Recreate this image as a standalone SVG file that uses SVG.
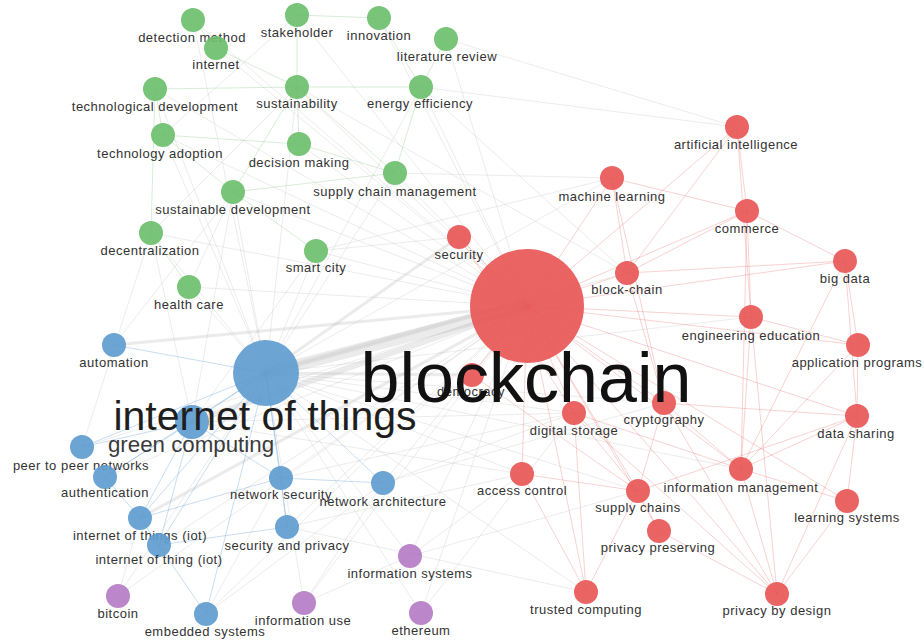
<svg xmlns="http://www.w3.org/2000/svg" width="924" height="642" viewBox="0 0 924 642">
<style>
.e{stroke:#c8c8c8;stroke-opacity:.35;stroke-width:1;fill:none}
.ew{stroke:#bdbdbd;stroke-opacity:.3;fill:none;stroke-linecap:round}
.er{stroke:#e86a6a;stroke-opacity:.3;stroke-width:1;fill:none}
.eb{stroke:#78a9d6;stroke-opacity:.4;stroke-width:1;fill:none}
.eg{stroke:#8ccc8c;stroke-opacity:.35;stroke-width:1;fill:none}
.g{fill:#6dbf6d;fill-opacity:.92}
.r{fill:#e85757;fill-opacity:.92}
.b{fill:#5f9ccf;fill-opacity:.92}
.p{fill:#b57cc6;fill-opacity:.92}
.l{font-family:"Liberation Sans",Arial,sans-serif;font-size:13px;letter-spacing:.5px;fill:#333;text-anchor:middle}
.big{font-family:"Liberation Sans",Arial,sans-serif;text-anchor:middle}
</style>
<rect width="924" height="642" fill="#ffffff"/>
<g id="connectors">
<!-- wide bands -->
<line class="ew" x1="266" y1="373" x2="527" y2="306" stroke-width="12"/>
<line class="ew" x1="192" y1="422" x2="527" y2="306" stroke-width="6"/>
<line class="ew" x1="266" y1="373" x2="527" y2="300" stroke-width="5"/>
<line class="ew" x1="140" y1="518" x2="527" y2="306" stroke-width="3"/>
<line class="ew" x1="114" y1="345" x2="527" y2="306" stroke-width="3"/>
<line class="ew" x1="266" y1="373" x2="459" y2="237" stroke-width="3"/>
<line class="ew" x1="266" y1="373" x2="472" y2="375" stroke-width="3"/>
<!-- blockchain to green -->
<line class="e" x1="527" y1="306" x2="193" y2="20"/>
<line class="e" x1="527" y1="306" x2="297" y2="15"/>
<line class="e" x1="527" y1="306" x2="379" y2="18"/>
<line class="e" x1="527" y1="306" x2="446" y2="39"/>
<line class="e" x1="527" y1="306" x2="216" y2="48"/>
<line class="e" x1="527" y1="306" x2="155" y2="89"/>
<line class="e" x1="527" y1="306" x2="297" y2="87"/>
<line class="e" x1="527" y1="306" x2="421" y2="87"/>
<line class="e" x1="527" y1="306" x2="163" y2="135"/>
<line class="e" x1="527" y1="306" x2="299" y2="144"/>
<line class="e" x1="527" y1="306" x2="395" y2="173"/>
<line class="e" x1="527" y1="306" x2="233" y2="192"/>
<line class="e" x1="527" y1="306" x2="151" y2="233"/>
<line class="e" x1="527" y1="306" x2="316" y2="251"/>
<line class="e" x1="527" y1="306" x2="189" y2="287"/>
<!-- blockchain to blue / purple -->
<line class="e" x1="527" y1="306" x2="82" y2="447"/>
<line class="e" x1="527" y1="306" x2="105" y2="477"/>
<line class="e" x1="527" y1="306" x2="281" y2="478"/>
<line class="e" x1="527" y1="306" x2="383" y2="483"/>
<line class="e" x1="527" y1="306" x2="159" y2="545"/>
<line class="e" x1="527" y1="306" x2="287" y2="527"/>
<line class="e" x1="527" y1="306" x2="206" y2="614"/>
<line class="e" x1="527" y1="306" x2="410" y2="556"/>
<line class="e" x1="527" y1="306" x2="118" y2="596"/>
<line class="e" x1="527" y1="306" x2="304" y2="603"/>
<line class="e" x1="527" y1="306" x2="421" y2="613"/>
<!-- IoT to others -->
<line class="e" x1="266" y1="373" x2="193" y2="20"/>
<line class="e" x1="266" y1="373" x2="297" y2="87"/>
<line class="e" x1="266" y1="373" x2="155" y2="89"/>
<line class="e" x1="266" y1="373" x2="163" y2="135"/>
<line class="e" x1="266" y1="373" x2="233" y2="192"/>
<line class="e" x1="266" y1="373" x2="151" y2="233"/>
<line class="e" x1="266" y1="373" x2="316" y2="251"/>
<line class="e" x1="266" y1="373" x2="189" y2="287"/>
<line class="e" x1="266" y1="373" x2="395" y2="173"/>
<line class="e" x1="266" y1="373" x2="421" y2="87"/>
<line class="e" x1="266" y1="373" x2="612" y2="178"/>
<line class="e" x1="266" y1="373" x2="627" y2="273"/>
<line class="e" x1="266" y1="373" x2="574" y2="413"/>
<line class="e" x1="266" y1="373" x2="522" y2="474"/>
<line class="e" x1="266" y1="373" x2="664" y2="403"/>
<line class="e" x1="266" y1="373" x2="638" y2="491"/>
<line class="e" x1="266" y1="373" x2="586" y2="592"/>
<line class="e" x1="266" y1="373" x2="410" y2="556"/>
<line class="e" x1="266" y1="373" x2="118" y2="596"/>
<line class="e" x1="266" y1="373" x2="304" y2="603"/>
<line class="e" x1="266" y1="373" x2="421" y2="613"/>
<line class="e" x1="266" y1="373" x2="741" y2="469"/>
<line class="e" x1="266" y1="373" x2="751" y2="317"/>
<!-- misc gray -->
<line class="e" x1="192" y1="422" x2="233" y2="192"/>
<line class="e" x1="192" y1="422" x2="151" y2="233"/>
<line class="e" x1="192" y1="422" x2="316" y2="251"/>
<line class="e" x1="192" y1="422" x2="522" y2="474"/>
<line class="e" x1="192" y1="422" x2="574" y2="413"/>
<line class="e" x1="316" y1="251" x2="459" y2="237"/>
<line class="e" x1="316" y1="251" x2="612" y2="178"/>
<line class="e" x1="395" y1="173" x2="612" y2="178"/>
<line class="e" x1="421" y1="87" x2="737" y2="127"/>
<line class="e" x1="446" y1="39" x2="737" y2="127"/>
<line class="e" x1="297" y1="87" x2="627" y2="273"/>
<line class="e" x1="421" y1="87" x2="627" y2="273"/>
<line class="e" x1="410" y1="556" x2="522" y2="474"/>
<line class="e" x1="410" y1="556" x2="638" y2="491"/>
<line class="e" x1="421" y1="613" x2="574" y2="413"/>
<line class="e" x1="304" y1="603" x2="410" y2="556"/>
<line class="e" x1="304" y1="603" x2="383" y2="483"/>
<line class="e" x1="206" y1="614" x2="281" y2="478"/>
<line class="e" x1="206" y1="614" x2="383" y2="483"/>
<line class="e" x1="118" y1="596" x2="140" y2="518"/>
<line class="e" x1="383" y1="483" x2="574" y2="413"/>
<line class="e" x1="383" y1="483" x2="664" y2="403"/>
<line class="e" x1="287" y1="527" x2="586" y2="592"/>
<line class="e" x1="287" y1="527" x2="522" y2="474"/>
<line class="e" x1="281" y1="478" x2="574" y2="413"/>
<line class="e" x1="163" y1="135" x2="297" y2="15"/>
<line class="e" x1="151" y1="233" x2="297" y2="87"/>
<line class="e" x1="189" y1="287" x2="233" y2="192"/>
<line class="e" x1="114" y1="345" x2="233" y2="192"/>
<line class="e" x1="82" y1="447" x2="151" y2="233"/>
<!-- green edges -->
<line class="eg" x1="297" y1="87" x2="395" y2="173"/>
<line class="eg" x1="297" y1="87" x2="233" y2="192"/>
<line class="eg" x1="297" y1="87" x2="299" y2="144"/>
<line class="eg" x1="297" y1="87" x2="297" y2="15"/>
<line class="eg" x1="297" y1="87" x2="155" y2="89"/>
<line class="eg" x1="297" y1="87" x2="421" y2="87"/>
<line class="eg" x1="421" y1="87" x2="395" y2="173"/>
<line class="eg" x1="421" y1="87" x2="446" y2="39"/>
<line class="eg" x1="379" y1="18" x2="421" y2="87"/>
<line class="eg" x1="193" y1="20" x2="216" y2="48"/>
<line class="eg" x1="155" y1="89" x2="163" y2="135"/>
<line class="eg" x1="233" y1="192" x2="316" y2="251"/>
<line class="eg" x1="233" y1="192" x2="163" y2="135"/>
<line class="eg" x1="233" y1="192" x2="395" y2="173"/>
<line class="eg" x1="299" y1="144" x2="395" y2="173"/>
<line class="eg" x1="163" y1="135" x2="299" y2="144"/>
<line class="eg" x1="151" y1="233" x2="189" y2="287"/>
<line class="eg" x1="216" y1="48" x2="297" y2="87"/>
<line class="eg" x1="297" y1="15" x2="379" y2="18"/>
<line class="eg" x1="155" y1="89" x2="151" y2="233"/>
<!-- blue edges -->
<line class="eb" x1="266" y1="373" x2="192" y2="422" stroke-width="3"/>
<line class="eb" x1="266" y1="373" x2="114" y2="345"/>
<line class="eb" x1="266" y1="373" x2="82" y2="447"/>
<line class="eb" x1="266" y1="373" x2="105" y2="477"/>
<line class="eb" x1="266" y1="373" x2="281" y2="478" stroke-width="1.5"/>
<line class="eb" x1="266" y1="373" x2="383" y2="483"/>
<line class="eb" x1="266" y1="373" x2="140" y2="518" stroke-width="1.5"/>
<line class="eb" x1="266" y1="373" x2="159" y2="545"/>
<line class="eb" x1="266" y1="373" x2="287" y2="527"/>
<line class="eb" x1="266" y1="373" x2="206" y2="614"/>
<line class="eb" x1="192" y1="422" x2="140" y2="518" stroke-width="2"/>
<line class="eb" x1="192" y1="422" x2="159" y2="545"/>
<line class="eb" x1="192" y1="422" x2="105" y2="477"/>
<line class="eb" x1="192" y1="422" x2="82" y2="447"/>
<line class="eb" x1="192" y1="422" x2="281" y2="478"/>
<line class="eb" x1="281" y1="478" x2="287" y2="527"/>
<line class="eb" x1="140" y1="518" x2="206" y2="614"/>
<line class="eb" x1="140" y1="518" x2="281" y2="478"/>
<line class="eb" x1="159" y1="545" x2="287" y2="527"/>
<line class="eb" x1="105" y1="477" x2="140" y2="518"/>
<line class="eb" x1="281" y1="478" x2="383" y2="483"/>
<!-- red edges from blockchain -->
<line class="er" x1="527" y1="306" x2="737" y2="127"/>
<line class="er" x1="527" y1="306" x2="612" y2="178"/>
<line class="er" x1="527" y1="306" x2="747" y2="211" stroke-width="1.5"/>
<line class="er" x1="527" y1="306" x2="459" y2="237"/>
<line class="er" x1="527" y1="306" x2="627" y2="273" stroke-width="1.5"/>
<line class="er" x1="527" y1="306" x2="845" y2="261" stroke-width="1.5"/>
<line class="er" x1="527" y1="306" x2="751" y2="317"/>
<line class="er" x1="527" y1="306" x2="858" y2="345"/>
<line class="er" x1="527" y1="306" x2="472" y2="375"/>
<line class="er" x1="527" y1="306" x2="664" y2="403" stroke-width="1.5"/>
<line class="er" x1="527" y1="306" x2="574" y2="413" stroke-width="1.5"/>
<line class="er" x1="527" y1="306" x2="857" y2="416"/>
<line class="er" x1="527" y1="306" x2="522" y2="474" stroke-width="1.5"/>
<line class="er" x1="527" y1="306" x2="741" y2="469" stroke-width="1.5"/>
<line class="er" x1="527" y1="306" x2="638" y2="491" stroke-width="1.5"/>
<line class="er" x1="527" y1="306" x2="847" y2="501"/>
<line class="er" x1="527" y1="306" x2="659" y2="531"/>
<line class="er" x1="527" y1="306" x2="586" y2="592"/>
<line class="er" x1="527" y1="306" x2="777" y2="594" stroke-width="1.5"/>
<!-- red-red -->
<line class="er" x1="737" y1="127" x2="747" y2="211"/>
<line class="er" x1="737" y1="127" x2="627" y2="273"/>
<line class="er" x1="737" y1="127" x2="751" y2="317"/>
<line class="er" x1="747" y1="211" x2="845" y2="261"/>
<line class="er" x1="747" y1="211" x2="627" y2="273"/>
<line class="er" x1="747" y1="211" x2="751" y2="317"/>
<line class="er" x1="747" y1="211" x2="741" y2="469"/>
<line class="er" x1="845" y1="261" x2="858" y2="345"/>
<line class="er" x1="845" y1="261" x2="627" y2="273"/>
<line class="er" x1="845" y1="261" x2="857" y2="416"/>
<line class="er" x1="845" y1="261" x2="741" y2="469"/>
<line class="er" x1="751" y1="317" x2="858" y2="345"/>
<line class="er" x1="751" y1="317" x2="741" y2="469"/>
<line class="er" x1="751" y1="317" x2="777" y2="594"/>
<line class="er" x1="664" y1="403" x2="741" y2="469"/>
<line class="er" x1="664" y1="403" x2="638" y2="491"/>
<line class="er" x1="664" y1="403" x2="777" y2="594"/>
<line class="er" x1="664" y1="403" x2="857" y2="416"/>
<line class="er" x1="574" y1="413" x2="638" y2="491"/>
<line class="er" x1="574" y1="413" x2="586" y2="592"/>
<line class="er" x1="574" y1="413" x2="777" y2="594"/>
<line class="er" x1="574" y1="413" x2="741" y2="469"/>
<line class="er" x1="741" y1="469" x2="777" y2="594"/>
<line class="er" x1="741" y1="469" x2="847" y2="501"/>
<line class="er" x1="741" y1="469" x2="857" y2="416"/>
<line class="er" x1="857" y1="416" x2="847" y2="501"/>
<line class="er" x1="858" y1="345" x2="857" y2="416"/>
<line class="er" x1="847" y1="501" x2="777" y2="594"/>
<line class="er" x1="659" y1="531" x2="777" y2="594"/>
<line class="er" x1="638" y1="491" x2="659" y2="531"/>
<line class="er" x1="522" y1="474" x2="586" y2="592"/>
<line class="er" x1="522" y1="474" x2="638" y2="491"/>
<line class="er" x1="612" y1="178" x2="627" y2="273"/>
<line class="er" x1="612" y1="178" x2="747" y2="211"/>
<line class="er" x1="612" y1="178" x2="664" y2="403"/>
<line class="er" x1="857" y1="416" x2="777" y2="594"/>
<line class="er" x1="858" y1="345" x2="741" y2="469"/>
<line class="er" x1="627" y1="273" x2="664" y2="403"/>
<line class="er" x1="472" y1="375" x2="638" y2="491"/>
<line class="er" x1="459" y1="237" x2="574" y2="413"/>
<line class="er" x1="638" y1="491" x2="586" y2="592"/>
<line class="er" x1="857" y1="416" x2="638" y2="491"/>
</g>
<g id="nodes">
<g id="n-detection-method"><circle class="g" cx="193" cy="20" r="12"/><text class="l" x="192" y="42">detection method</text></g>
<g id="n-stakeholder"><circle class="g" cx="297" cy="15" r="12"/><text class="l" x="297" y="37">stakeholder</text></g>
<g id="n-innovation"><circle class="g" cx="379" cy="18" r="12"/><text class="l" x="379" y="40">innovation</text></g>
<g id="n-literature-review"><circle class="g" cx="446" cy="39" r="12"/><text class="l" x="447" y="61">literature review</text></g>
<g id="n-internet"><circle class="g" cx="216" cy="48" r="12"/><text class="l" x="216" y="69">internet</text></g>
<g id="n-technological-development"><circle class="g" cx="155" cy="89" r="12"/><text class="l" x="155" y="111">technological development</text></g>
<g id="n-sustainability"><circle class="g" cx="297" cy="87" r="12"/><text class="l" x="297" y="108">sustainability</text></g>
<g id="n-energy-efficiency"><circle class="g" cx="421" cy="87" r="12"/><text class="l" x="420" y="108">energy efficiency</text></g>
<g id="n-technology-adoption"><circle class="g" cx="163" cy="135" r="12"/><text class="l" x="160" y="158">technology adoption</text></g>
<g id="n-decision-making"><circle class="g" cx="299" cy="144" r="12"/><text class="l" x="299" y="167">decision making</text></g>
<g id="n-supply-chain-management"><circle class="g" cx="395" cy="173" r="12"/><text class="l" x="395" y="196">supply chain management</text></g>
<g id="n-sustainable-development"><circle class="g" cx="233" cy="192" r="12"/><text class="l" x="233" y="214">sustainable development</text></g>
<g id="n-decentralization"><circle class="g" cx="151" cy="233" r="12"/><text class="l" x="150" y="255">decentralization</text></g>
<g id="n-smart-city"><circle class="g" cx="316" cy="251" r="12"/><text class="l" x="316" y="272">smart city</text></g>
<g id="n-health-care"><circle class="g" cx="189" cy="287" r="12"/><text class="l" x="189" y="309">health care</text></g>

<g id="n-artificial-intelligence"><circle class="r" cx="737" cy="127" r="12"/><text class="l" x="736" y="149">artificial intelligence</text></g>
<g id="n-machine-learning"><circle class="r" cx="612" cy="178" r="12"/><text class="l" x="612" y="201">machine learning</text></g>
<g id="n-commerce"><circle class="r" cx="747" cy="211" r="12"/><text class="l" x="747" y="233">commerce</text></g>
<g id="n-security"><circle class="r" cx="459" cy="237" r="12"/><text class="l" x="459" y="259">security</text></g>
<g id="n-block-chain"><circle class="r" cx="627" cy="273" r="12"/><text class="l" x="627" y="294">block-chain</text></g>
<g id="n-big-data"><circle class="r" cx="845" cy="261" r="12"/><text class="l" x="845" y="283">big data</text></g>
<g id="n-engineering-education"><circle class="r" cx="751" cy="317" r="12"/><text class="l" x="751" y="340">engineering education</text></g>
<g id="n-application-programs"><circle class="r" cx="858" cy="345" r="12"/><text class="l" x="857" y="367">application programs</text></g>
<g id="n-democracy"><circle class="r" cx="472" cy="375" r="12"/><text class="l" x="471" y="396">democracy</text></g>
<g id="n-cryptography"><circle class="r" cx="664" cy="403" r="12"/><text class="l" x="664" y="424">cryptography</text></g>
<g id="n-digital-storage"><circle class="r" cx="574" cy="413" r="12"/><text class="l" x="574" y="435">digital storage</text></g>
<g id="n-data-sharing"><circle class="r" cx="857" cy="416" r="12"/><text class="l" x="856" y="438">data sharing</text></g>
<g id="n-access-control"><circle class="r" cx="522" cy="474" r="12"/><text class="l" x="522" y="495">access control</text></g>
<g id="n-information-management"><circle class="r" cx="741" cy="469" r="12"/><text class="l" x="741" y="492">information management</text></g>
<g id="n-supply-chains"><circle class="r" cx="638" cy="491" r="12"/><text class="l" x="638" y="512">supply chains</text></g>
<g id="n-learning-systems"><circle class="r" cx="847" cy="501" r="12"/><text class="l" x="847" y="522">learning systems</text></g>
<g id="n-privacy-preserving"><circle class="r" cx="659" cy="531" r="12"/><text class="l" x="658" y="552">privacy preserving</text></g>
<g id="n-trusted-computing"><circle class="r" cx="586" cy="592" r="12"/><text class="l" x="586" y="614">trusted computing</text></g>
<g id="n-privacy-by-design"><circle class="r" cx="777" cy="594" r="12"/><text class="l" x="777" y="615">privacy by design</text></g>

<g id="n-automation"><circle class="b" cx="114" cy="345" r="12"/><text class="l" x="114" y="367">automation</text></g>
<g id="n-peer-to-peer-networks"><circle class="b" cx="82" cy="447" r="12"/><text class="l" x="81" y="470">peer to peer networks</text></g>
<g id="n-authentication"><circle class="b" cx="105" cy="477" r="12"/><text class="l" x="105" y="497">authentication</text></g>
<g id="n-network-security"><circle class="b" cx="281" cy="478" r="12"/><text class="l" x="281" y="499">network security</text></g>
<g id="n-network-architecture"><circle class="b" cx="383" cy="483" r="12"/><text class="l" x="383" y="506">network architecture</text></g>
<g id="n-internet-of-things-iot"><circle class="b" cx="140" cy="518" r="12"/><text class="l" x="140" y="540">internet of things (iot)</text></g>
<g id="n-internet-of-thing-iot"><circle class="b" cx="159" cy="545" r="12"/><text class="l" x="159" y="564">internet of thing (iot)</text></g>
<g id="n-security-and-privacy"><circle class="b" cx="287" cy="527" r="12"/><text class="l" x="287" y="550">security and privacy</text></g>
<g id="n-embedded-systems"><circle class="b" cx="206" cy="614" r="12"/><text class="l" x="205" y="636">embedded systems</text></g>

<g id="n-information-systems"><circle class="p" cx="410" cy="556" r="12"/><text class="l" x="410" y="578">information systems</text></g>
<g id="n-bitcoin"><circle class="p" cx="118" cy="596" r="12"/><text class="l" x="118" y="618">bitcoin</text></g>
<g id="n-information-use"><circle class="p" cx="304" cy="603" r="12"/><text class="l" x="303" y="625">information use</text></g>
<g id="n-ethereum"><circle class="p" cx="421" cy="613" r="12"/><text class="l" x="421" y="635">ethereum</text></g>

<g id="n-green-computing"><circle class="b" cx="192" cy="422" r="17"/><text class="big" x="191" y="452" font-size="22.3" fill="#3a3a3a">green computing</text></g>
<g id="n-internet-of-things"><circle class="b" cx="266" cy="373" r="33"/><text class="big" x="265" y="430" font-size="41" fill="#1e1e1e">internet of things</text></g>
<g id="n-blockchain"><circle class="r" cx="527" cy="306" r="57"/><text class="big" x="526" y="402" font-size="70" fill="#111111">blockchain</text></g>
</g>
</svg>
